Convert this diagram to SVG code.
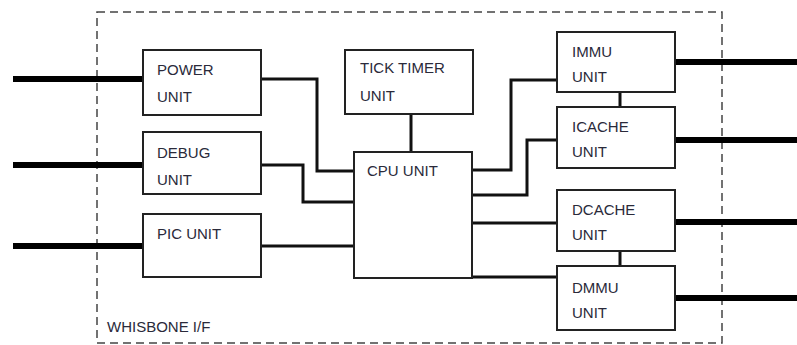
<svg xmlns="http://www.w3.org/2000/svg" width="797" height="345" viewBox="0 0 797 345">
<style>
.box{fill:#fff;stroke:#222;stroke-width:2}
.t{font-family:"Liberation Sans",Arial,sans-serif;font-size:15px;fill:#2a2a3a}
.bus{fill:none;stroke:#000;stroke-width:6}
.w{fill:none;stroke:#111;stroke-width:3}
</style>
<rect width="797" height="345" fill="#fff"/>
<g id="whisbone">
<rect x="97" y="12" width="625" height="331" fill="none" stroke="#444" stroke-width="1.5" stroke-dasharray="8,5"/>
<text class="t" x="107" y="332">WHISBONE I/F</text>
</g>
<g id="connectors">
<line class="bus" x1="13" y1="79" x2="143" y2="79"/>
<line class="bus" x1="13" y1="165" x2="143" y2="165"/>
<line class="bus" x1="13" y1="246" x2="143" y2="246"/>
<line class="bus" x1="675" y1="62" x2="797" y2="62"/>
<line class="bus" x1="675" y1="140" x2="797" y2="140"/>
<line class="bus" x1="675" y1="222" x2="797" y2="222"/>
<line class="bus" x1="675" y1="298" x2="797" y2="298"/>
<polyline class="w" points="261,79 317,79 317,171 354,171"/>
<polyline class="w" points="261,165 303,165 303,202 354,202"/>
<line class="w" x1="261" y1="246" x2="354" y2="246" stroke-width="2"/>
<line class="w" x1="411" y1="114" x2="411" y2="152"/>
<polyline class="w" points="472,170 511,170 511,80 557,80"/>
<polyline class="w" points="472,195 527,195 527,140 557,140"/>
<line class="w" x1="472" y1="223" x2="557" y2="223"/>
<line class="w" x1="472" y1="277" x2="557" y2="277"/>
<line class="w" x1="620" y1="92" x2="620" y2="107" stroke-width="4"/>
<line class="w" x1="620" y1="251" x2="620" y2="266" stroke-width="4"/>
</g>
<g id="power">
<rect class="box" x="143" y="50" width="118" height="65"/>
<text class="t" x="157" y="75">POWER</text>
<text class="t" x="157" y="102">UNIT</text>
</g>
<g id="debug">
<rect class="box" x="143" y="132" width="118" height="62"/>
<text class="t" x="157" y="158">DEBUG</text>
<text class="t" x="157" y="185">UNIT</text>
</g>
<g id="pic">
<rect class="box" x="143" y="214" width="118" height="63"/>
<text class="t" x="157" y="239">PIC UNIT</text>
</g>
<g id="ticktimer">
<rect class="box" x="345" y="50" width="128" height="64"/>
<text class="t" x="360" y="73">TICK TIMER</text>
<text class="t" x="360" y="101">UNIT</text>
</g>
<g id="cpu">
<rect class="box" x="354" y="152" width="118" height="126"/>
<text class="t" x="367" y="176">CPU UNIT</text>
</g>
<g id="immu">
<rect class="box" x="557" y="32" width="118" height="60"/>
<text class="t" x="572" y="57">IMMU</text>
<text class="t" x="572" y="82">UNIT</text>
</g>
<g id="icache">
<rect class="box" x="557" y="107" width="118" height="61"/>
<text class="t" x="572" y="132">ICACHE</text>
<text class="t" x="572" y="157">UNIT</text>
</g>
<g id="dcache">
<rect class="box" x="557" y="190" width="118" height="61"/>
<text class="t" x="572" y="215">DCACHE</text>
<text class="t" x="572" y="240">UNIT</text>
</g>
<g id="dmmu">
<rect class="box" x="557" y="266" width="118" height="64"/>
<text class="t" x="572" y="293">DMMU</text>
<text class="t" x="572" y="318">UNIT</text>
</g>
</svg>
